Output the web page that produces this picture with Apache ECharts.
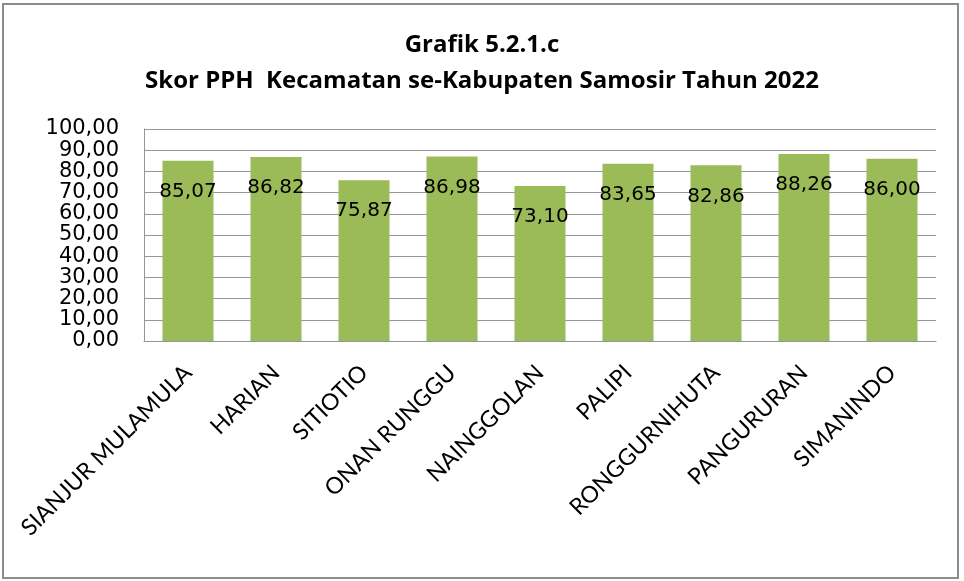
<!DOCTYPE html>
<html>
<head>
<meta charset="utf-8">
<script src="https://cdn.jsdelivr.net/npm/echarts@6/dist/echarts.min.js"></script>
<style>
  html, body { margin: 0; padding: 0; background: #fff; }
  #main { width: 964px; height: 581px; }
</style>
</head>
<body>
<div id="main"></div>
<script>
// kecamatan names
var categories = ["SIANJUR MULAMULA", "HARIAN", "SITIOTIO", "ONAN RUNGGU", "NAINGGOLAN",
  "PALIPI", "RONGGURNIHUTA", "PANGURURAN", "SIMANINDO"];
// skor PPH 2022
var scores = [85.07, 86.82, 75.87, 86.98, 73.10, 83.65, 82.86, 88.26, 86.00];

function fmt(v) {
  return Number(v).toFixed(2).replace(".", ",");
}

var myChart = echarts.init(document.getElementById("main"));
var option = {
  backgroundColor: "#fff",
  animation: false,
  title: {
    text: "Grafik 5.2.1.c\nSkor PPH  Kecamatan se-Kabupaten Samosir Tahun 2022",
    left: "center",
    top: 22,
    textStyle: {
      fontFamily: "Open Sans",
      fontWeight: "bold",
      fontSize: 24,
      lineHeight: 36,
      color: "#000"
    }
  },
  graphic: [
    {
      type: "rect",
      shape: { x: 3, y: 4, width: 955, height: 574 },
      style: { fill: "none", stroke: "#8c8c8c", lineWidth: 2 },
      silent: true
    }
  ],
  grid: {
    left: 144,
    right: 28,
    top: 129,
    bottom: 240
  },
  xAxis: {
    type: "category",
    data: categories,
    axisLine: { show: true, lineStyle: { color: "#969696", width: 1 } },
    axisTick: { show: false },
    axisLabel: {
      interval: 0,
      rotate: 45,
      margin: 28,
      fontFamily: "Lato",
      fontSize: 23,
      color: "#000"
    }
  },
  yAxis: {
    type: "value",
    min: 0,
    max: 100,
    interval: 10,
    axisLine: { show: true, lineStyle: { color: "#969696", width: 1 } },
    axisTick: { show: false },
    splitLine: { lineStyle: { color: "#969696", width: 1 } },
    axisLabel: {
      formatter: fmt,
      margin: 25,
      fontFamily: "DejaVu Sans",
      fontSize: 21,
      color: "#000"
    }
  },
  series: [
    {
      type: "bar",
      data: scores,
      barWidth: "58%",
      itemStyle: { color: "#9bbb59" },
      label: {
        show: true,
        position: "insideTop",
        distance: 21,
        formatter: function (p) { return fmt(p.value); },
        fontFamily: "DejaVu Sans",
        fontSize: 20,
        color: "#000"
      }
    }
  ]
};
myChart.setOption(option);
</script>
</body>
</html>
